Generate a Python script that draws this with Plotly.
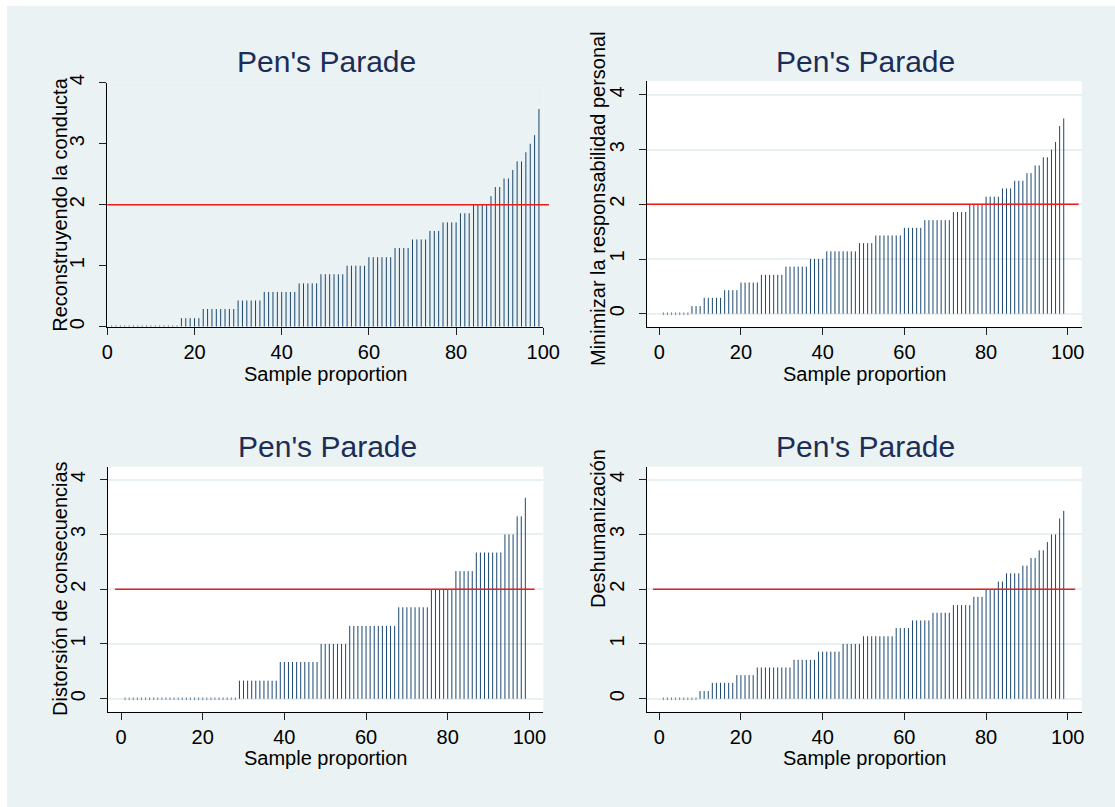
import numpy as np
import plotly.graph_objects as go

W, H = 1115, 807

# Item means per respondent, kept as frequency tables (score level -> number of respondents)
rc_levels = [0, 0.14, 0.29, 0.43, 0.57, 0.71, 0.86, 1.0, 1.14, 1.29, 1.43, 1.57,
             1.71, 1.86, 2.0, 2.14, 2.29, 2.43, 2.57, 2.71, 2.86, 3.0, 3.14, 3.57]
rc_counts = [16, 5, 8, 6, 8, 5, 6, 5, 6, 4, 4, 3, 4, 3, 4, 1, 2, 2, 1, 2, 1, 1, 1, 1]

mr_levels = [0, 0.14, 0.29, 0.43, 0.57, 0.71, 0.86, 1.0, 1.14, 1.29, 1.43, 1.57,
             1.71, 1.86, 2.0, 2.14, 2.29, 2.43, 2.57, 2.71, 2.86, 3.0, 3.14, 3.43, 3.57]
mr_counts = [7, 3, 5, 4, 5, 6, 6, 4, 8, 4, 7, 5, 7, 4, 4, 4, 3, 3, 2, 2, 2, 1, 1, 1, 1]

dc_levels = [0, 0.33, 0.67, 1.0, 1.33, 1.67, 2.0, 2.33, 2.67, 3.0, 3.33, 3.67]
dc_counts = [28, 10, 10, 7, 12, 8, 6, 5, 7, 3, 2, 1]

dh_levels = [0, 0.14, 0.29, 0.43, 0.57, 0.71, 0.86, 1.0, 1.14, 1.29, 1.43, 1.57,
             1.71, 1.86, 2.0, 2.14, 2.29, 2.43, 2.57, 2.71, 2.86, 3.0, 3.29, 3.43]
dh_counts = [9, 3, 6, 5, 9, 6, 6, 5, 8, 4, 5, 5, 5, 3, 3, 2, 4, 2, 2, 2, 1, 2, 1, 1]

y_titles = ["Reconstruyendo la conducta", "Minimizar la responsabilidad personal",
            "Distorsión de consecuencias", "Deshumanización"]
panel_title = "Pen's Parade"
x_title = "Sample proportion"
x_ticks = [0, 20, 40, 60, 80, 100]
y_ticks = [0, 1, 2, 3, 4]
threshold = 2

BG = "#EAF2F3"
NAVY = "#1A476F"
FONT = "Liberation Sans, Arial, sans-serif"

# Panel frames in pixels: (left, right, top, bottom), axis ranges, reference-line span,
# and y-title centre
panels = [
    dict(levels=rc_levels, counts=rc_counts, box=(107.3, 543.3, 82.7, 326.7),
         xr=[0, 100], yr=[0, 4], white=False, line=(0.0, 1.013), ytc=204.7),
    dict(levels=mr_levels, counts=mr_counts, box=(646.7, 1081.7, 81.0, 327.0),
         xr=[-3.08, 103.4], yr=[-0.243, 4.254], white=True, line=(0.0, 0.993), ytc=199),
    dict(levels=dc_levels, counts=dc_counts, box=(107.7, 543.3, 466.7, 711.7),
         xr=[-3.26, 103.4], yr=[-0.237, 4.237], white=True, line=(0.017, 0.98), ytc=589),
    dict(levels=dh_levels, counts=dh_counts, box=(646.7, 1081.7, 466.7, 711.7),
         xr=[-3.06, 103.4], yr=[-0.237, 4.237], white=True, line=(0.0145, 0.985), ytc=529),
]

fig = go.Figure()
shapes, annotations = [], []

for i, p in enumerate(panels, start=1):
    sfx = "" if i == 1 else str(i)
    xa, ya = "x" + sfx, "y" + sfx
    vals = np.repeat(p["levels"], p["counts"])
    n = len(vals)
    xs = np.arange(1, n + 1) / (n + 1) * 100  # sample proportion of each ranked case

    sx, sy = [], []
    for xv, yv in zip(xs, vals):
        sx += [xv, xv, None]
        sy += [0, yv, None]
    fig.add_trace(go.Scatter(x=sx, y=sy, mode="lines", xaxis=xa, yaxis=ya,
                             line=dict(color=NAVY, width=1), hoverinfo="skip",
                             showlegend=False))
    zero = vals == 0
    fig.add_trace(go.Scatter(x=xs[zero], y=vals[zero], mode="markers", xaxis=xa, yaxis=ya,
                             marker=dict(symbol="line-ns", size=2, color=NAVY,
                                         line=dict(color=NAVY, width=1)),
                             opacity=0.6, hoverinfo="skip", showlegend=False))

    l, r, t, b = p["box"]
    ax_common = dict(showline=True, linecolor="#000", linewidth=1.3, ticks="outside",
                     ticklen=7, tickwidth=1.3, tickcolor="#222", zeroline=False,
                     automargin=False,
                     tickfont=dict(family=FONT, size=20, color="#000"))
    fig.update_layout(**{
        ("xaxis" + sfx): dict(domain=[l / W, r / W], range=p["xr"], anchor=ya,
                              tickvals=x_ticks, showgrid=False, **ax_common),
        ("yaxis" + sfx): dict(domain=[1 - b / H, 1 - t / H], range=p["yr"], anchor=xa,
                              tickvals=y_ticks, tickangle=-90, ticklabelstandoff=7,
                              showgrid=p["white"], gridcolor="#E8F0F2", gridwidth=2,
                              **ax_common),
    })

    if not p["white"]:
        shapes.append(dict(type="rect", xref=xa + " domain", yref=ya + " domain",
                           x0=0, x1=1, y0=0, y1=1, fillcolor=BG, line_width=0,
                           layer="below"))
    shapes.append(dict(type="line", xref=xa + " domain", yref=ya,
                       x0=p["line"][0], x1=p["line"][1], y0=threshold, y1=threshold,
                       line=dict(color="#F01A1A", width=1.6), layer="above"))

    cx = (l + r) / 2
    row_top = t < 200
    annotations.append(dict(text=panel_title, x=(cx + 1.5) / W,
                            y=1 - (62 if row_top else 446) / H,
                            xref="paper", yref="paper", showarrow=False,
                            xanchor="center", yanchor="middle",
                            font=dict(family=FONT, size=30, color="#1C2D57")))
    annotations.append(dict(text=x_title, x=cx / W, y=1 - (374 if row_top else 758) / H,
                            xref="paper", yref="paper", showarrow=False,
                            xanchor="center", yanchor="middle",
                            font=dict(family=FONT, size=20, color="#000")))
    annotations.append(dict(text=y_titles[i - 1], x=(60 if l < 300 else 598) / W,
                            y=1 - p["ytc"] / H, textangle=-90,
                            xref="paper", yref="paper", showarrow=False,
                            xanchor="center", yanchor="middle",
                            font=dict(family=FONT, size=20, color="#000")))

# thin white frame along the top and left edges of the canvas
shapes.append(dict(type="rect", xref="paper", yref="paper", x0=0, x1=7 / W, y0=0, y1=1,
                   fillcolor="white", line_width=0, layer="above"))
shapes.append(dict(type="rect", xref="paper", yref="paper", x0=0, x1=1, y0=1 - 6 / H, y1=1,
                   fillcolor="white", line_width=0, layer="above"))

fig.update_layout(template="none", width=W, height=H,
                  margin=dict(l=0, r=0, t=0, b=0, pad=0),
                  paper_bgcolor=BG, plot_bgcolor="white",
                  shapes=shapes, annotations=annotations, showlegend=False,
                  font=dict(family=FONT))

fig.write_html("out.html")
